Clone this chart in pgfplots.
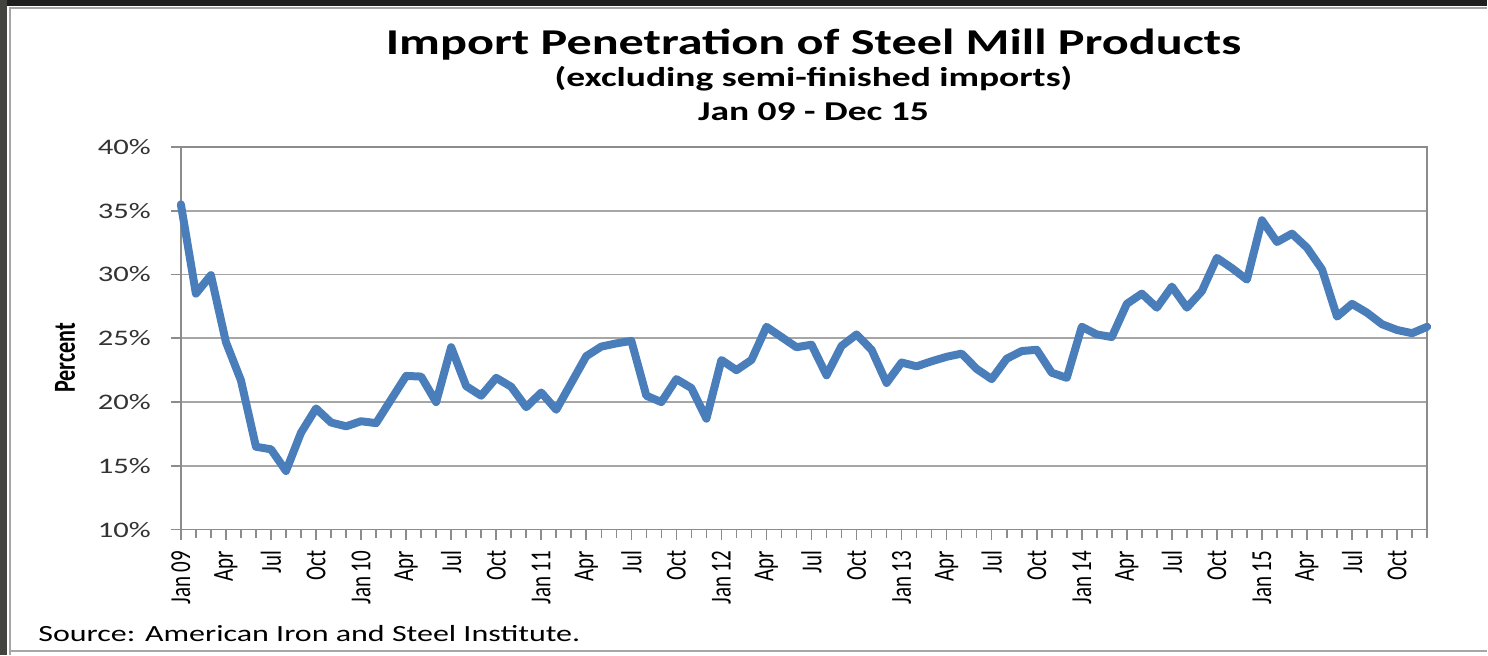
\documentclass[border=0pt]{standalone}
\usepackage{pgfplots}
\pgfplotsset{compat=1.18}
\usepackage{fontspec}
\setmainfont{Carlito}
% the source chart is stretched sideways: wide for flat text, narrow for turned text
\newfontfamily\wide[FakeStretch=1.38]{Carlito}
\newfontfamily\narrow[FakeStretch=0.725]{Carlito}
\definecolor{steelblue}{HTML}{4A7EBB}
\definecolor{gridgray}{HTML}{A6A6A6}
\definecolor{axisgray}{HTML}{8C8C8C}
\definecolor{frametop}{HTML}{1F1F1F}
\definecolor{frameleft}{HTML}{44443E}

\pgfplotstableread{
m v
0 35.5
1 28.5
2 29.95
3 24.7
4 21.7
5 16.5
6 16.3
7 14.6
8 17.6
9 19.5
10 18.4
11 18.1
12 18.5
13 18.35
14 20.2
15 22.05
16 22.0
17 20.0
18 24.3
19 21.25
20 20.5
21 21.9
22 21.2
23 19.6
24 20.75
25 19.4
26 21.5
27 23.6
28 24.35
29 24.6
30 24.8
31 20.5
32 20.0
33 21.8
34 21.1
35 18.7
36 23.3
37 22.5
38 23.3
39 25.9
40 25.1
41 24.3
42 24.5
43 22.1
44 24.4
45 25.3
46 24.1
47 21.5
48 23.1
49 22.8
50 23.2
51 23.55
52 23.8
53 22.6
54 21.8
55 23.4
56 24.0
57 24.1
58 22.3
59 21.9
60 25.9
61 25.3
62 25.1
63 27.7
64 28.5
65 27.4
66 29.05
67 27.4
68 28.7
69 31.3
70 30.5
71 29.6
72 34.25
73 32.55
74 33.2
75 32.1
76 30.4
77 26.7
78 27.7
79 27.0
80 26.1
81 25.65
82 25.4
83 25.9
}\penetration

\begin{document}
\begin{tikzpicture}
% frame, in pixel units of the reference
\begin{scope}[x=0.5pt,y=-0.5pt]
  \fill[white] (0,0) rectangle (1488,655);
  \fill[frametop] (0,0) rectangle (1488,6);
  \fill[frameleft] (0,0) rectangle (7,655);
  \draw[gridgray,line width=0.9pt] (10,655) -- (10,8) -- (1488,8);
  \draw[gridgray,line width=0.9pt] (10,651) -- (1488,651);
  \node[anchor=base] at (814,55) {\wide\bfseries\fontsize{18.2pt}{20pt}\selectfont Import Penetration of Steel Mill Products};
  \node[anchor=base] at (814,87) {\wide\bfseries\fontsize{13.6pt}{15pt}\selectfont (excluding semi-finished imports)};
  \node[anchor=base] at (814,121) {\wide\bfseries\fontsize{13.6pt}{15pt}\selectfont Jan 09 - Dec 15};
  \node[rotate=90] at (65,358) {\narrow\bfseries\fontsize{15.3pt}{16pt}\selectfont Percent};
  \node[anchor=base west,inner sep=0pt] at (38,642) {\wide\fontsize{11.6pt}{13pt}\selectfont Source: American Iron and Steel Institute.};
\end{scope}
\begin{axis}[
    at={(90.5pt,-265pt)}, anchor=south west,
    scale only axis,
    width=623.5pt, height=191.5pt,
    xmin=0, xmax=83, ymin=10, ymax=40,
    clip=false,
    axis line style={axisgray, line width=0.8pt},
    ytick={10,15,20,25,30,35,40},
    yticklabels={10\%,15\%,20\%,25\%,30\%,35\%,40\%},
    yticklabel style={font=\wide\fontsize{11.1pt}{12pt}\selectfont, text=black!80, xshift=-6.5pt},
    ymajorgrids,
    major grid style={gridgray, line width=0.8pt},
    xtick={0,3,...,81},
    minor xtick={0,...,83},
    xticklabels={Jan 09,Apr,Jul,Oct,Jan 10,Apr,Jul,Oct,Jan 11,Apr,Jul,Oct,Jan 12,Apr,Jul,Oct,Jan 13,Apr,Jul,Oct,Jan 14,Apr,Jul,Oct,Jan 15,Apr,Jul,Oct},
    xticklabel style={font=\narrow\fontsize{14.5pt}{16pt}\selectfont, yshift=-2pt, rotate=90, anchor=east},
    tick align=outside,
    xtick pos=bottom, ytick pos=left,
    major tick length=5pt, minor tick length=4pt,
    tick style={axisgray, line width=0.8pt},
    minor tick style={axisgray, line width=0.8pt},
]
\addplot[steelblue, line width=4pt, line join=round, line cap=round] table[x=m, y=v] {\penetration};
\end{axis}
\end{tikzpicture}
\end{document}
